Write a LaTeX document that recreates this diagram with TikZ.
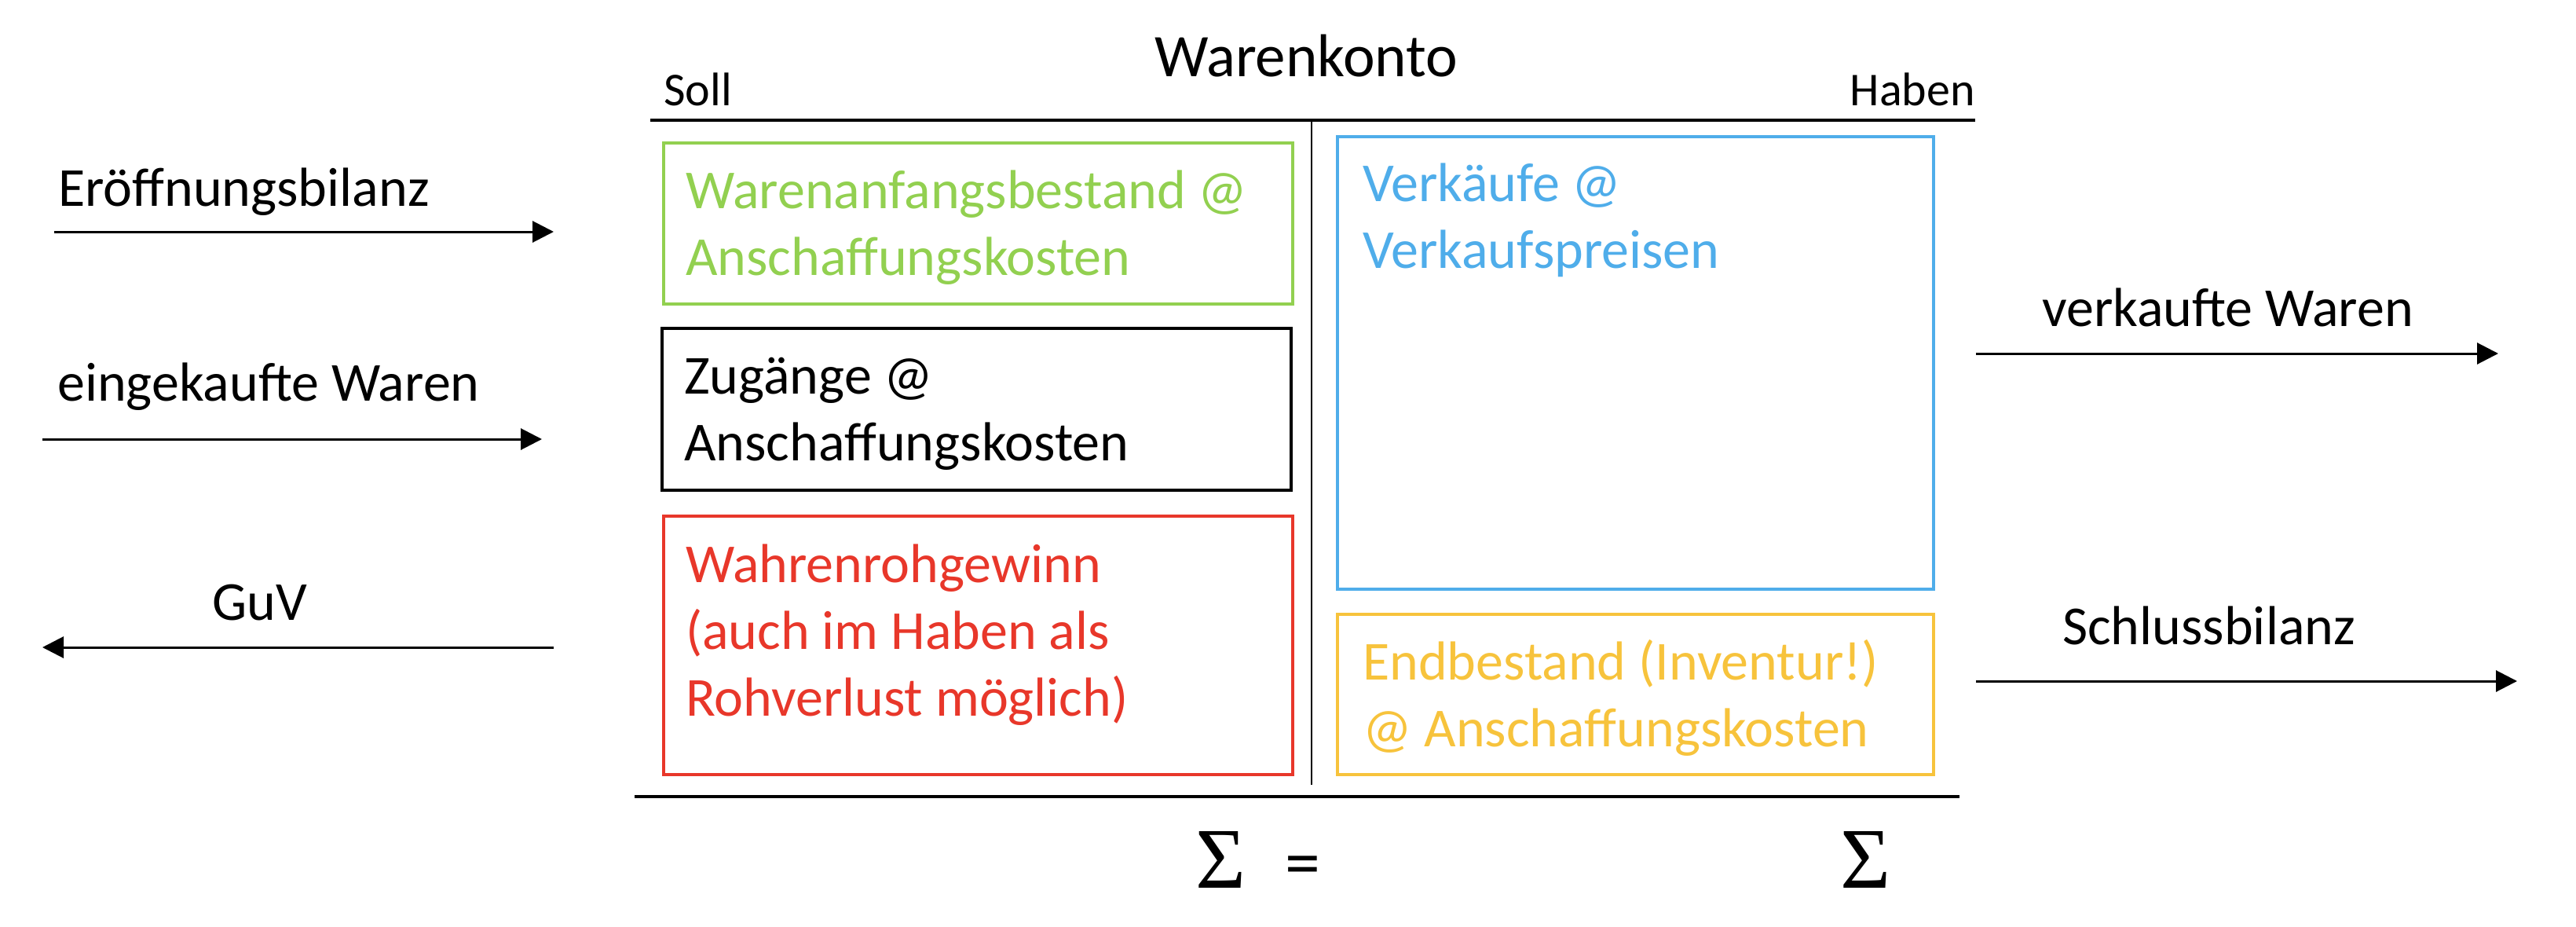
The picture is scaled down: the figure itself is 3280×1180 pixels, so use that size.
\documentclass[tikz,border=0pt]{standalone}
\usepackage{fontspec}
\setmainfont{Carlito}
\newfontfamily\sigmafont{Liberation Serif}
\usetikzlibrary{arrows.meta}
\definecolor{kgreen}{HTML}{92D050}
\definecolor{kblue}{HTML}{4FADEA}
\definecolor{kred}{HTML}{E8372A}
\definecolor{kyellow}{HTML}{F7C33C}
\begin{document}
\begin{tikzpicture}[x=1pt,y=-1pt,
  box/.style={draw, line width=3.5pt, rectangle, inner sep=0pt, anchor=north west},
  body/.style={font=\fontsize{70}{85}\selectfont, align=left, anchor=north west, inner sep=0pt},
  lbl/.style={font=\fontsize{70}{85}\selectfont, anchor=base west, inner sep=0pt},
  small/.style={font=\fontsize{60}{72}\selectfont, inner sep=0pt},
  arr/.style={line width=3pt, -{Triangle[length=27pt,width=27pt]}},
  rulel/.style={line width=4pt}]
\useasboundingbox (0,0) rectangle (3280,1180);

% title and headings
\node[font=\fontsize{77}{92}\selectfont, anchor=base west, inner sep=0pt] (title) at (1470,98) {Warenkonto};
\node[small, anchor=base west] (soll) at (845,135) {Soll};
\node[small, anchor=base east] (haben) at (2515,135) {Haben};

% T-account lines
\coordinate (tl) at (828,153);
\coordinate (tr) at (2515,153);
\coordinate (vt) at (1670,153);
\coordinate (vb) at (1670,999);
\coordinate (bl) at (808,1014);
\coordinate (br) at (2495,1014);
\draw[rulel] (tl) -- (tr);
\draw[line width=2pt] (vt) -- (vb);
\draw[rulel] (bl) -- (br);

% boxes
\node[box, draw=kgreen, minimum width=801pt, minimum height=205pt] (gbox) at (843,180) {};
\node[box, draw=black, minimum width=801pt, minimum height=206pt] (kbox) at (841,416) {};
\node[box, draw=kred, minimum width=801pt, minimum height=329pt] (rbox) at (843,655) {};
\node[box, draw=kblue, minimum width=759pt, minimum height=576pt] (bbox) at (1701,172) {};
\node[box, draw=kyellow, minimum width=759pt, minimum height=204pt] (ybox) at (1701,780) {};

% box texts
\node[body, text=kgreen] (gtext) at (873,205) {\rule{0pt}{60pt}Warenanfangsbestand @\\Anschaffungskosten};
\node[body, text=black] (ktext) at (871,441) {\rule{0pt}{60pt}Zugänge @\\Anschaffungskosten};
\node[body, text=kred] (rtext) at (873,681) {\rule{0pt}{60pt}Wahrenrohgewinn\\(auch im Haben als\\Rohverlust möglich)};
\node[body, text=kblue] (btext) at (1735,196) {\rule{0pt}{60pt}Verkäufe @\\Verkaufspreisen};
\node[body, text=kyellow] (ytext) at (1735,805) {\rule{0pt}{60pt}Endbestand (Inventur!)\\@ Anschaffungskosten};

% left side flows
\node[lbl] (eb) at (74,262) {Eröffnungsbilanz};
\coordinate (eb1) at (69,295);
\coordinate (eb2) at (705,295);
\draw[arr] (eb1) -- (eb2);

\node[lbl] (ew) at (73,510) {eingekaufte Waren};
\coordinate (ew1) at (54,559);
\coordinate (ew2) at (690,559);
\draw[arr] (ew1) -- (ew2);

\node[lbl] (guv) at (270,789) {GuV};
\coordinate (gv1) at (705,824);
\coordinate (gv2) at (54,824);
\draw[arr] (gv1) -- (gv2);

% right side flows
\node[lbl] (vw) at (2600,415) {verkaufte Waren};
\coordinate (vw1) at (2516,450);
\coordinate (vw2) at (3181,450);
\draw[arr] (vw1) -- (vw2);

\node[lbl] (sb) at (2626,820) {Schlussbilanz};
\coordinate (sb1) at (2516,867);
\coordinate (sb2) at (3205,867);
\draw[arr] (sb1) -- (sb2);

% sums
\node[font=\sigmafont\fontsize{110}{120}\selectfont, anchor=base west, inner sep=0pt] (s1) at (1522,1130) {Σ};
\node[font=\fontsize{90}{100}\selectfont, anchor=base west, inner sep=0pt] (eq) at (1636,1128) {=};
\node[font=\sigmafont\fontsize{110}{120}\selectfont, anchor=base west, inner sep=0pt] (s2) at (2343,1130) {Σ};
\end{tikzpicture}
\end{document}
